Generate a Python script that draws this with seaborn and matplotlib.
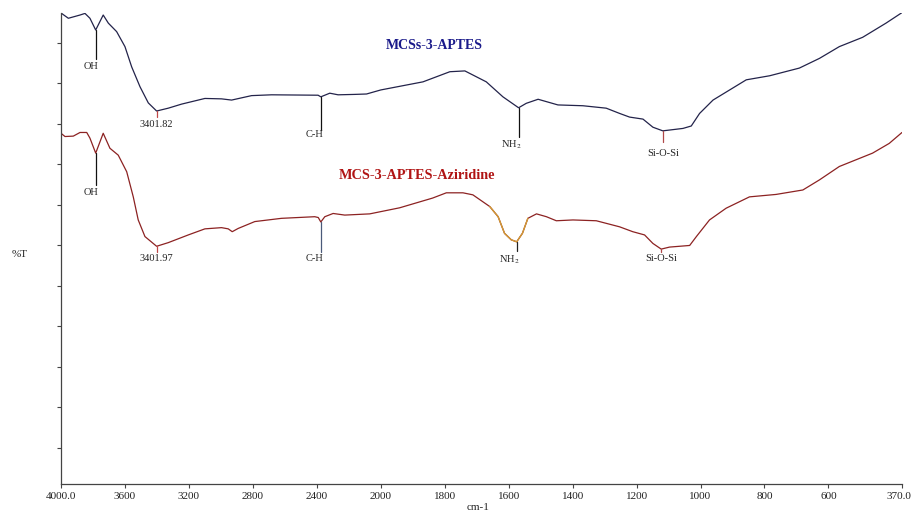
import numpy as np
import pandas as pd
import matplotlib
matplotlib.use("Agg")
import matplotlib.pyplot as plt
import matplotlib.transforms as mtransforms
import seaborn as sns

# ---- spectra (wavenumber in cm-1, transmittance in %T) ----
aptes_wn = [4000, 3954, 3881, 3850, 3819, 3783, 3736, 3704, 3652, 3600, 3558, 3506,
            3454, 3402, 3329, 3246, 3100, 2996, 2933, 2808, 2683, 2392, 2375, 2319,
            2267, 2163, 2089, 2000, 1868, 1784, 1737, 1670, 1618, 1569, 1545, 1508,
            1446, 1368, 1295, 1253, 1222, 1180, 1149, 1118, 1055, 1029, 1003, 961,
            909, 857, 784, 691, 628, 566, 493, 420, 370]
aptes_t = [107.4, 106.1, 106.9, 107.3, 106.1, 103.2, 106.9, 104.9, 102.8, 99.1, 94.1, 89.2,
           85.2, 83.2, 83.9, 84.9, 86.3, 86.2, 85.9, 87.0, 87.2, 87.1, 86.7, 87.6,
           87.2, 87.3, 87.4, 88.4, 90.4, 92.9, 93.1, 90.4, 86.7, 84.0, 85.1, 86.1,
           84.7, 84.5, 83.9, 82.6, 81.7, 81.2, 79.2, 78.3, 78.9, 79.5, 82.6, 85.9,
           88.4, 90.9, 91.9, 93.8, 96.2, 99.1, 101.4, 104.9, 107.5]

azir_wn = [4000, 3975, 3923, 3881, 3839, 3819, 3783, 3736, 3694, 3642, 3589, 3548,
           3517, 3475, 3402, 3329, 3204, 3100, 2996, 2954, 2929, 2892, 2788, 2621,
           2413, 2391, 2375, 2350, 2298, 2225, 2069, 1941, 1838, 1795, 1743, 1712,
           1659, 1633, 1613, 1592, 1575, 1557, 1540, 1513, 1482, 1451, 1399, 1326,
           1253, 1212, 1175, 1149, 1123, 1097, 1034, 1013, 972, 920, 847, 764,
           680, 628, 566, 462, 410, 370]
azir_t = [77.7, 76.9, 77.0, 77.9, 77.9, 76.5, 72.8, 77.7, 74.0, 72.3, 68.2, 62.0,
          56.3, 52.2, 49.8, 50.7, 52.6, 54.1, 54.4, 54.1, 53.4, 54.2, 55.9, 56.7,
          57.1, 56.9, 55.8, 57.1, 57.9, 57.5, 57.8, 59.3, 61.7, 63.0, 63.0, 62.5,
          59.6, 57.1, 53.0, 51.4, 50.9, 53.0, 56.7, 57.8, 57.1, 56.1, 56.3, 56.1,
          54.6, 53.4, 52.6, 50.5, 49.1, 49.6, 50.0, 52.2, 56.3, 59.2, 62.0, 62.6,
          63.7, 66.2, 69.5, 72.8, 75.2, 77.9]

# highlighted NH2 band region on the aziridine spectrum
nh2_band = (1540, 1659)

# ---- peak assignments ----
aptes_peaks = [3783, 3401.82, 2375, 1569, 1118]
aptes_labels = ["OH", "3401.82", "C-H", "NH$_2$", "Si-O-Si"]
azir_peaks = [3783, 3401.97, 2375, 1575, 1123]
azir_labels = ["OH", "3401.97", "C-H", "NH$_2$", "Si-O-Si"]

x_ticks = [4000, 3600, 3200, 2800, 2400, 2000, 1800, 1600, 1400, 1200, 1000, 800, 600, 370]
x_tick_labels = ["4000.0", "3600", "3200", "2800", "2400", "2000", "1800", "1600",
                 "1400", "1200", "1000", "800", "600", "370.0"]

sns.set_theme(style="white")
plt.rcParams["font.family"] = ["Liberation Serif", "DejaVu Serif"]
plt.rcParams["mathtext.fontset"] = "stix"

fig = plt.figure(figsize=(9.12, 5.13), dpi=100)
ax = fig.add_axes([61 / 912, 29 / 513, 841 / 912, 471 / 513])

c_top = "#23234a"
c_bot = "#8c2222"
c_band = "#d39a35"

df_a = pd.DataFrame({"wn": aptes_wn, "T": aptes_t})
df_b = pd.DataFrame({"wn": azir_wn, "T": azir_t})
band = df_b[(df_b.wn >= nh2_band[0]) & (df_b.wn <= nh2_band[1])]

sns.lineplot(data=df_a, x="wn", y="T", ax=ax, color=c_top, linewidth=0.9, sort=True)
sns.lineplot(data=df_b, x="wn", y="T", ax=ax, color=c_bot, linewidth=0.9, sort=True)
sns.lineplot(data=band, x="wn", y="T", ax=ax, color=c_band, linewidth=1.0, sort=True)


# 4000-2000 cm-1 compressed to half the scale of 2000-370 cm-1
def fwd(x):
    x = np.asarray(x, dtype=float)
    return np.where(x <= 2000, x, 2000 + (x - 2000) / 2)


def inv(u):
    u = np.asarray(u, dtype=float)
    return np.where(u <= 2000, u, 2000 + (u - 2000) * 2)


ax.set_xscale("function", functions=(fwd, inv))
ax.set_xlim(4000, 370)
ax.set_ylim(-8.9, 107.4)

# peak markers: (line end, label y, alignment, line colour)
aptes_style = [(96.0, 94.3, "right", "#111111"),
               (81.7, 79.8, "center", "#c04848"),
               (78.5, 77.5, "right", "#111111"),
               (76.8, 74.8, "right", "#111111"),
               (75.6, 72.6, "center", "#b04848")]
azir_style = [(64.9, 63.2, "right", "#111111"),
              (48.4, 46.9, "center", "#c04848"),
              (48.4, 46.9, "right", "#4a5a7a"),
              (48.6, 46.4, "right", "#222222"),
              (48.4, 46.9, "center", "#b04848")]


def mark(wn_list, t_list, peaks, labels, styles):
    order = np.argsort(wn_list)
    xs = np.asarray(wn_list)[order]
    ys = np.asarray(t_list)[order]
    for p, lab, (y_end, y_lab, ha, lc) in zip(peaks, labels, styles):
        y0 = np.interp(p, xs, ys)
        ax.plot([p, p], [y0, y_end], color=lc, linewidth=0.9)
        dx = 2 if ha == "right" else 0
        ax.annotate(lab, xy=(p, y_lab), xytext=(dx, 0), textcoords="offset points",
                    ha=ha, va="center", fontsize=7.5, color="#222222")


mark(aptes_wn, aptes_t, aptes_peaks, aptes_labels, aptes_style)
mark(azir_wn, azir_t, azir_peaks, azir_labels, azir_style)

ax.text(1834, 99.3, "MCSs-3-APTES", ha="center", va="center", fontsize=10,
        fontweight="bold", color="#1a1a8a")
ax.text(1887, 67.2, "MCS-3-APTES-Aziridine", ha="center", va="center", fontsize=10.3,
        fontweight="bold", color="#b01414")

ax.set_xticks(x_ticks)
ax.set_xticklabels(x_tick_labels)
ax.xaxis.set_minor_locator(matplotlib.ticker.NullLocator())
ax.set_yticks(np.arange(0, 101, 10))
ax.set_yticklabels([])
ax.tick_params(axis="both", direction="out", length=3, width=0.8, color="#444444")
ax.tick_params(axis="x", labelsize=8, labelcolor="#222222", pad=3)
ax.tick_params(axis="y", left=True)
ax.tick_params(axis="x", bottom=True)

# keep the last wavenumber label inside the figure
last = ax.get_xticklabels()[-1]
last.set_horizontalalignment("right")
last.set_transform(last.get_transform() +
                   mtransforms.ScaledTranslation(9 / 100, 0, fig.dpi_scale_trans))

ax.set_xlabel("")
ax.set_ylabel("")
for side in ["top", "right"]:
    ax.spines[side].set_visible(False)
for side in ["left", "bottom"]:
    ax.spines[side].set_color("#444444")
    ax.spines[side].set_linewidth(0.9)

fig.text(20 / 912, 1 - 255 / 513, "%T", ha="center", va="center", fontsize=8, color="#222222")
fig.text(478 / 912, 1 - 508 / 513, "cm-1", ha="center", va="center", fontsize=8, color="#222222")

fig.savefig("out.png", dpi=100, facecolor="white")
